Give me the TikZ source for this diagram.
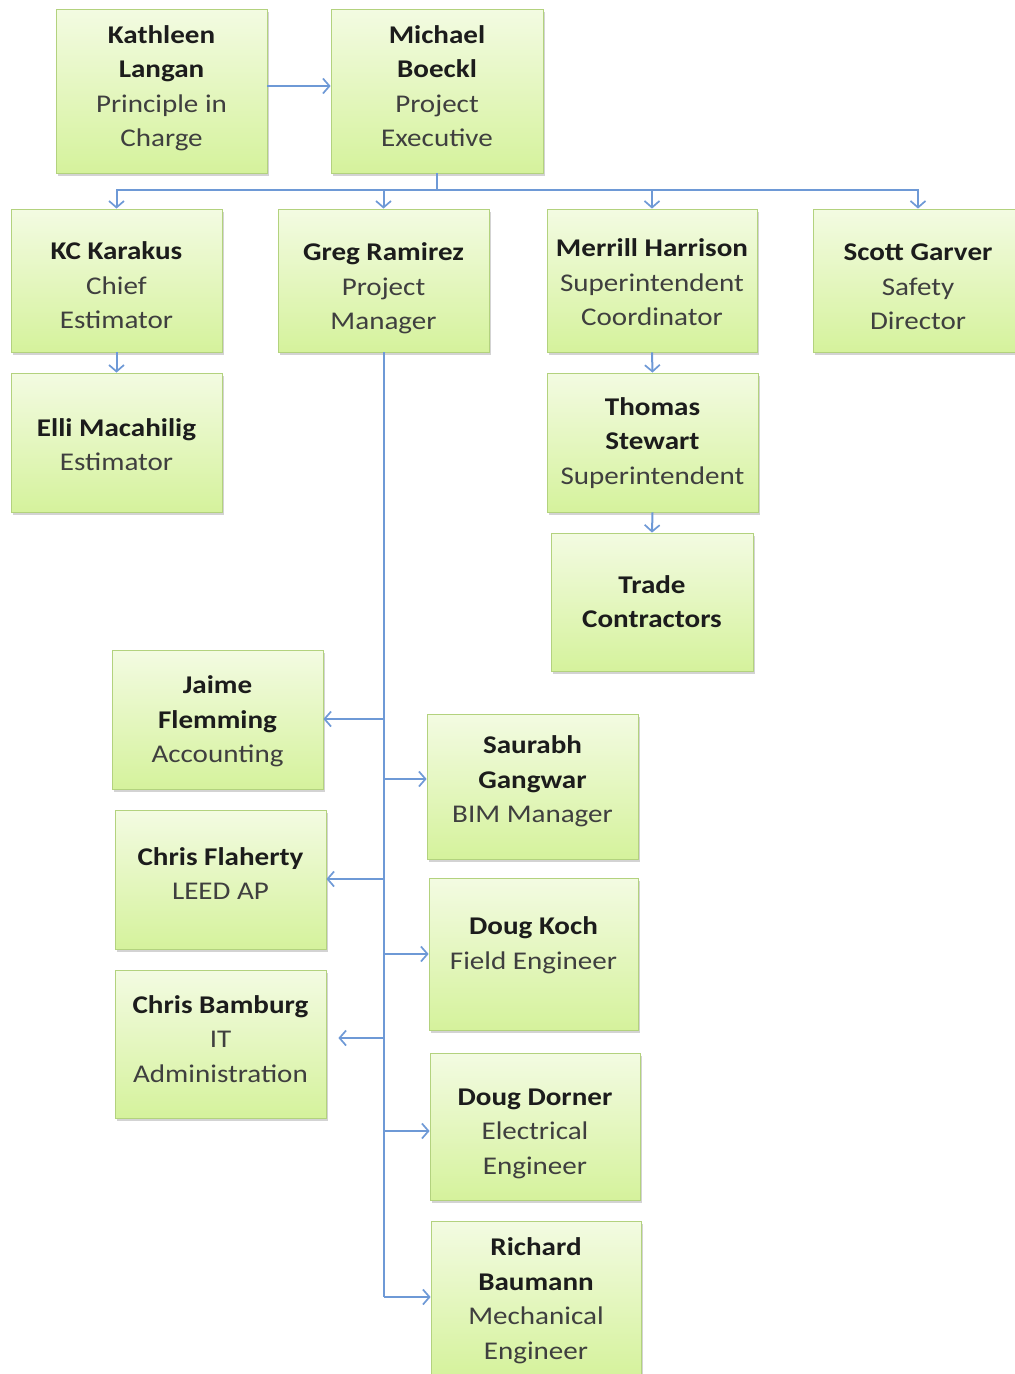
\documentclass[tikz,border=0pt]{standalone}
\usepackage{fontspec}
\setmainfont{Carlito}[FakeStretch=1.14]
\usetikzlibrary{arrows.meta,shadows}
\definecolor{boxtop}{HTML}{F3FBE2}
\definecolor{boxbot}{HTML}{D5F29C}
\definecolor{boxedge}{HTML}{B3D27E}
\definecolor{conn}{HTML}{6E99D6}
\definecolor{namecol}{HTML}{1C1C1C}
\definecolor{titlecol}{HTML}{3F3F3F}
\newcommand{\nm}[1]{{\bfseries\color{namecol}#1}}
\newcommand{\tl}[1]{{\color{titlecol}#1}}
% text block, lifted by #1 pt from the box centre
\newcommand{\tb}[2]{\raisebox{\dimexpr #1pt - 8.4pt\relax}[0pt][0pt]{\begin{tabular}{@{}c@{}}#2\end{tabular}}}
\tikzset{
  orgbox/.style={draw=boxedge, line width=0.8pt, top color=boxtop, bottom color=boxbot,
    align=center, inner sep=0pt, font=\fontsize{25.5}{34.5}\selectfont,
    drop shadow={shadow xshift=2pt, shadow yshift=-2.5pt, opacity=0.35, fill=gray}},
  link/.style={draw=conn, line width=2pt},
  arr/.style={link, -{Straight Barb[length=6.5pt,width=15pt,line width=1.7pt]}}
}
\begin{document}
\begin{tikzpicture}[x=1pt,y=-1pt]
\useasboundingbox (0,0) rectangle (1015,1374);
\clip (0,0) rectangle (1015,1374);
% boxes
\node[orgbox, minimum width=211pt, minimum height=164pt] (kath) at (161.5,91) {\tb{5}{\nm{Kathleen}\\\nm{Langan}\\\tl{Principle in}\\\tl{Charge}}};
\node[orgbox, minimum width=212pt, minimum height=164pt] (mich) at (437,91) {\tb{5}{\nm{Michael}\\\nm{Boeckl}\\\tl{Project}\\\tl{Executive}}};
\node[orgbox, minimum width=211pt, minimum height=143pt] (kc) at (116.5,280.5) {\tb{-4.5}{\nm{KC Karakus}\\\tl{Chief}\\\tl{Estimator}}};
\node[orgbox, minimum width=211pt, minimum height=143pt] (greg) at (383.5,280.5) {\tb{-5.5}{\nm{Greg Ramirez}\\\tl{Project}\\\tl{Manager}}};
\node[orgbox, minimum width=210pt, minimum height=143pt] (merr) at (652,280.5) {\tb{-1.5}{\nm{Merrill Harrison}\\\tl{Superintendent}\\\tl{Coordinator}}};
\node[orgbox, minimum width=210pt, minimum height=143pt] (scott) at (918,280.5) {\tb{-5.5}{\nm{Scott Garver}\\\tl{Safety}\\\tl{Director}}};
\node[orgbox, minimum width=211pt, minimum height=139pt] (elli) at (116.5,442.5) {\tb{-2}{\nm{Elli Macahilig}\\\tl{Estimator}}};
\node[orgbox, minimum width=211pt, minimum height=139pt] (thom) at (652.5,442.5) {\tb{2}{\nm{Thomas}\\\nm{Stewart}\\\tl{Superintendent}}};
\node[orgbox, minimum width=202pt, minimum height=138pt] (trade) at (652,602) {\tb{0.5}{\nm{Trade}\\\nm{Contractors}}};
\node[orgbox, minimum width=211pt, minimum height=139pt] (jaime) at (217.5,719.5) {\tb{0.5}{\nm{Jaime}\\\nm{Flemming}\\\tl{Accounting}}};
\node[orgbox, minimum width=211pt, minimum height=145pt] (saur) at (532.5,786.5) {\tb{7.5}{\nm{Saurabh}\\\nm{Gangwar}\\\tl{BIM Manager}}};
\node[orgbox, minimum width=211pt, minimum height=139pt] (chrisf) at (220.5,879.5) {\tb{6}{\nm{Chris Flaherty}\\\tl{LEED AP}}};
\node[orgbox, minimum width=209pt, minimum height=152pt] (koch) at (533.5,954) {\tb{11}{\nm{Doug Koch}\\\tl{Field Engineer}}};
\node[orgbox, minimum width=211pt, minimum height=148pt] (chrisb) at (220.5,1044) {\tb{5.5}{\nm{Chris Bamburg}\\\tl{IT}\\\tl{Administration}}};
\node[orgbox, minimum width=210pt, minimum height=147pt] (dorner) at (535,1126.5) {\tb{-4}{\nm{Doug Dorner}\\\tl{Electrical}\\\tl{Engineer}}};
\node[orgbox, minimum width=210pt, minimum height=156pt] (rich) at (536,1299) {\tb{0.5}{\nm{Richard}\\\nm{Baumann}\\\tl{Mechanical}\\\tl{Engineer}}};
% connectors
\draw[arr] (kath.east |- 0,86) -- (mich.west |- 0,86);
\coordinate (bus) at (437,190);
\draw[link] (mich.south) -- (bus);
\draw[arr] (bus) -| (kc.north);
\draw[arr] (bus) -| (greg.north);
\draw[arr] (bus) -| (merr.north);
\draw[arr] (bus) -| (scott.north);
\draw[arr] (kc.south) -- (elli.north);
\draw[arr] (merr.south) -- (thom.north);
\draw[arr] (thom.south) -- (trade.north);
\coordinate (trunkend) at (383.5,1297);
\draw[link] (greg.south) -- (trunkend);
\draw[arr] (greg.south |- 0,719) -- (jaime.east |- 0,719);
\draw[arr] (greg.south |- 0,779) -- (saur.west |- 0,779);
\draw[arr] (greg.south |- 0,879) -- (chrisf.east |- 0,879);
\draw[arr] (greg.south |- 0,954) -- (koch.west |- 0,954);
\draw[arr, shorten >=12pt] (greg.south |- 0,1038) -- (chrisb.east |- 0,1038);
\draw[arr] (greg.south |- 0,1131) -- (dorner.west |- 0,1131);
\draw[arr] (trunkend) -- (rich.west |- trunkend);
\end{tikzpicture}
\end{document}
